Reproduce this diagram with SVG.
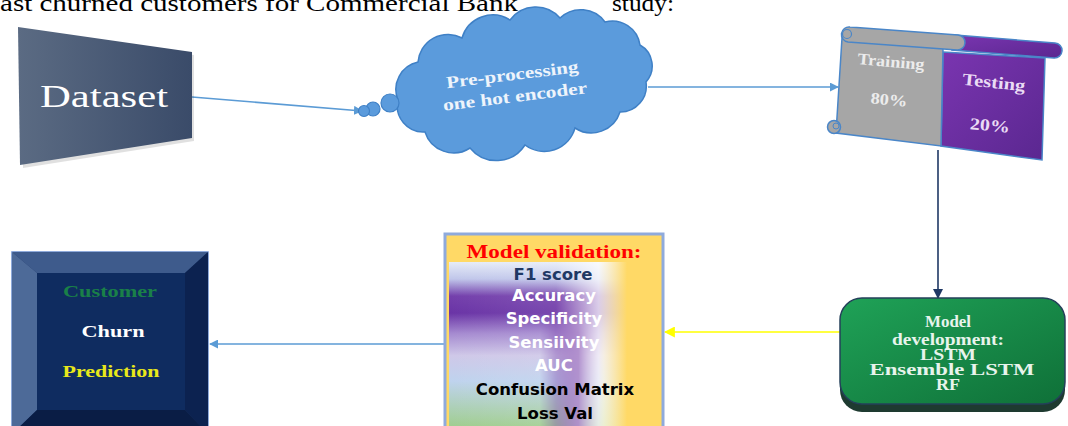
<svg xmlns="http://www.w3.org/2000/svg" width="1068" height="426" viewBox="0 0 1068 426">
<defs>
<style>
.serif{font-family:"Liberation Serif","Times New Roman",serif}
.sans{font-family:"DejaVu Sans","Verdana",sans-serif;font-weight:bold;font-size:16.5px}
.conn{fill:none;stroke-width:1.6}
</style>
<linearGradient id="gData" x1="0" y1="0" x2="1" y2="0"><stop offset="0" stop-color="#5b6b83"/><stop offset="1" stop-color="#3a4b69"/></linearGradient>
<linearGradient id="gPurple" x1="0" y1="0" x2="1" y2="1"><stop offset="0" stop-color="#7a35b0"/><stop offset="1" stop-color="#5a2790"/></linearGradient>
<linearGradient id="gGreen" x1="0" y1="0" x2="1" y2="1"><stop offset="0" stop-color="#1fa257"/><stop offset="1" stop-color="#0f7038"/></linearGradient>
<linearGradient id="gValV" x1="0" y1="0" x2="0" y2="1">
<stop offset="0" stop-color="#e6ecf8"/><stop offset="0.1" stop-color="#c0c6ea"/><stop offset="0.2" stop-color="#7440ac"/><stop offset="0.3" stop-color="#6a34a6"/><stop offset="0.42" stop-color="#a58ad0"/><stop offset="0.55" stop-color="#cfc8e8"/><stop offset="0.7" stop-color="#bfd3ee"/><stop offset="1" stop-color="#9ccd84"/>
</linearGradient>
<linearGradient id="gValH" x1="0" y1="0" x2="1" y2="0">
<stop offset="0" stop-color="#ffffff" stop-opacity="0"/><stop offset="0.6" stop-color="#ffffff" stop-opacity="0.1"/><stop offset="0.84" stop-color="#ffffff" stop-opacity="0.75"/><stop offset="1" stop-color="#ffd966" stop-opacity="1"/>
</linearGradient>
<linearGradient id="gBand" x1="0" y1="0" x2="1" y2="0">
<stop offset="0" stop-color="#6a2aa0" stop-opacity="0"/><stop offset="0.6" stop-color="#6a2aa0" stop-opacity="0.9"/><stop offset="1" stop-color="#6a2aa0" stop-opacity="0"/>
</linearGradient>
<linearGradient id="gBandV" x1="0" y1="0" x2="0" y2="1">
<stop offset="0" stop-color="#fff" stop-opacity="0"/><stop offset="0.3" stop-color="#fff" stop-opacity="1"/><stop offset="1" stop-color="#fff" stop-opacity="1"/>
</linearGradient>
<mask id="mBand"><rect x="540" y="290" width="64" height="140" fill="url(#gBandV)"/></mask>
<marker id="aBlue" viewBox="0 0 10 10" refX="9" refY="5" markerWidth="9" markerHeight="9" markerUnits="userSpaceOnUse" orient="auto"><path d="M0,0 L10,5 L0,10 Z" fill="#5b9bd5"/></marker>
<marker id="aNavy" viewBox="0 0 10 10" refX="9" refY="5" markerWidth="10" markerHeight="10" markerUnits="userSpaceOnUse" orient="auto"><path d="M0,0 L10,5 L0,10 Z" fill="#1f3864"/></marker>
<marker id="aYellow" viewBox="0 0 10 10" refX="9" refY="5" markerWidth="11" markerHeight="11" markerUnits="userSpaceOnUse" orient="auto"><path d="M0,0 L10,5 L0,10 Z" fill="#ffff00"/></marker>
</defs>

<text class="serif" x="0" y="11" font-size="24" textLength="518" lengthAdjust="spacingAndGlyphs">ast churned customers for Commercial Bank</text>
<text class="serif" x="612" y="11" font-size="24" textLength="62" lengthAdjust="spacingAndGlyphs">study:</text>

<g id="connectors">
<path class="conn" d="M192,97 L362,111" stroke="#5b9bd5" marker-end="url(#aBlue)"/>
<path class="conn" d="M648,87 L838,87" stroke="#5b9bd5" marker-end="url(#aBlue)"/>
<path class="conn" d="M938,150 L938,298" stroke="#1f3864" stroke-width="2" marker-end="url(#aNavy)"/>
<path class="conn" d="M842,332 L665,332" stroke="#ffff00" stroke-width="2" marker-end="url(#aYellow)"/>
<path class="conn" d="M445,344 L210,344" stroke="#5b9bd5" marker-end="url(#aBlue)"/>
</g>

<g id="dataset">
<polygon points="21,30 194,55 194,141 23,168" fill="#000" opacity="0.12"/>
<polygon points="18,27 192,52 192,138 20,165" fill="url(#gData)"/>
<text class="serif" x="104" y="107" font-size="32" fill="#ffffff" text-anchor="middle" textLength="128" lengthAdjust="spacingAndGlyphs">Dataset</text>
</g>

<g id="preprocessing">
<path d="M398,100 A28,28 0 0 1 418,62 A30,30 0 0 1 462,38 A32,32 0 0 1 510,20 A32,32 0 0 1 560,18 A30,30 0 0 1 605,22 A28,28 0 0 1 640,45 A24,24 0 0 1 646,82 A26,26 0 0 1 620,112 A30,30 0 0 1 575,128 A32,32 0 0 1 525,145 A34,34 0 0 1 470,148 A30,30 0 0 1 425,132 A26,26 0 0 1 398,100 Z" fill="#5b9bdc" stroke="#3f80c6" stroke-width="1.5"/>
<circle cx="390" cy="103" r="9" fill="#5b9bdc" stroke="#3f80c6" stroke-width="1.2"/>
<circle cx="373" cy="109" r="7" fill="#5b9bdc" stroke="#3f80c6" stroke-width="1.2"/>
<circle cx="364" cy="111" r="5.5" fill="#5b9bdc" stroke="#3f80c6" stroke-width="1.2"/>
<g transform="rotate(-7 514 88)">
<text class="serif" x="514" y="80" font-size="17" font-weight="bold" fill="#eef4fb" text-anchor="middle" textLength="133" lengthAdjust="spacingAndGlyphs">Pre-processing</text>
<text class="serif" x="514" y="102" font-size="17" font-weight="bold" fill="#eef4fb" text-anchor="middle" textLength="145" lengthAdjust="spacingAndGlyphs">one hot encoder</text>
</g>
</g>

<g id="split">
<polygon points="943,52 1045,58 1042,160 941,146" fill="url(#gPurple)" stroke="#4a86c8" stroke-width="1.5"/>
<polygon points="842,38 943,48 941,146 836,133" fill="#a6a6a6" stroke="#4a86c8" stroke-width="1.5"/>
<path d="M955,35 L1055,43 A7.5,7.5 0 0 1 1054,58 L952,50 Z" fill="url(#gPurple)" stroke="#4a86c8" stroke-width="1.5"/>
<path d="M850,27 L958,35 A7.5,7.5 0 0 1 957,50 L848,42 A7.5,7.5 0 0 1 850,27 Z" fill="#a6a6a6" stroke="#4a86c8" stroke-width="1.5"/>
<circle cx="847" cy="34" r="4.5" fill="#a6a6a6" stroke="#4a86c8" stroke-width="1.2"/>
<circle cx="834" cy="127" r="6.5" fill="#a6a6a6" stroke="#4a86c8" stroke-width="1.5"/>
<circle cx="836" cy="126" r="3" fill="none" stroke="#4a86c8" stroke-width="1"/>
<text class="serif" x="891" y="67" font-size="16" font-weight="bold" fill="#ececec" text-anchor="middle" textLength="67" lengthAdjust="spacingAndGlyphs" transform="rotate(5 891 62)">Training</text>
<text class="serif" x="889" y="105" font-size="16" font-weight="bold" fill="#ececec" text-anchor="middle" textLength="37" lengthAdjust="spacingAndGlyphs" transform="rotate(5 889 100)">80%</text>
<text class="serif" x="994" y="88" font-size="17" font-weight="bold" fill="#eadcf5" text-anchor="middle" textLength="63" lengthAdjust="spacingAndGlyphs" transform="rotate(6 994 82)">Testing</text>
<text class="serif" x="990" y="131" font-size="17" font-weight="bold" fill="#eadcf5" text-anchor="middle" textLength="40" lengthAdjust="spacingAndGlyphs" transform="rotate(5 990 125)">20%</text>
</g>

<g id="model-development">
<rect x="840" y="305" width="225" height="107" rx="22" fill="#1e3a30"/>
<rect x="840" y="298" width="225" height="106" rx="22" fill="url(#gGreen)" stroke="#24405a" stroke-width="1.5"/>
<g class="serif" font-size="16" font-weight="bold" fill="#e8f4ec" text-anchor="middle">
<text x="948" y="327" textLength="46" lengthAdjust="spacingAndGlyphs">Model</text>
<text x="948" y="345" textLength="112" lengthAdjust="spacingAndGlyphs">development:</text>
<text x="948" y="360" textLength="56" lengthAdjust="spacingAndGlyphs">LSTM</text>
<text x="952" y="375" textLength="165" lengthAdjust="spacingAndGlyphs">Ensemble LSTM</text>
<text x="948" y="390" textLength="24" lengthAdjust="spacingAndGlyphs">RF</text>
</g>
</g>

<g id="model-validation">
<rect x="445" y="234" width="218" height="200" fill="#ffd966" stroke="#8faadc" stroke-width="3"/>
<rect x="449" y="262" width="178" height="170" fill="url(#gValV)"/>
<rect x="540" y="290" width="64" height="140" fill="url(#gBand)" mask="url(#mBand)"/>
<rect x="449" y="262" width="178" height="170" fill="url(#gValH)"/>
<text class="serif" x="554" y="258" font-size="18" font-weight="bold" fill="#ff0000" text-anchor="middle" textLength="175" lengthAdjust="spacingAndGlyphs">Model validation:</text>
<g class="sans" text-anchor="middle">
<text x="553" y="280" fill="#1f3864">F1 score</text>
<text x="554" y="301" fill="#ffffff">Accuracy</text>
<text x="554" y="324" fill="#ffffff">Specificity</text>
<text x="554" y="348" fill="#ffffff">Sensiivity</text>
<text x="554" y="371" fill="#ffffff">AUC</text>
<text x="555" y="395" fill="#000000">Confusion Matrix</text>
<text x="555" y="419" fill="#000000">Loss Val</text>
</g>
</g>

<g id="churn-prediction">
<rect x="12" y="252" width="196" height="182" fill="#1b3566" stroke="#6a8fd0" stroke-width="1.5"/>
<polygon points="12,252 208,252 185,273 37,273" fill="#3e5b8c"/>
<polygon points="12,252 37,273 37,410 12,434" fill="#4d6a98"/>
<polygon points="208,252 208,434 185,410 185,273" fill="#0c2250"/>
<polygon points="12,434 37,410 185,410 208,434" fill="#0a1d45"/>
<rect x="37" y="273" width="148" height="137" fill="#0f2c60"/>
<g class="serif" font-size="16" font-weight="bold" text-anchor="middle">
<text x="110" y="297" fill="#1a8048" textLength="94" lengthAdjust="spacingAndGlyphs">Customer</text>
<text x="113" y="337" fill="#ffffff" textLength="63" lengthAdjust="spacingAndGlyphs">Churn</text>
<text x="111" y="377" fill="#e8e81a" textLength="97" lengthAdjust="spacingAndGlyphs">Prediction</text>
</g>
</g>
</svg>
